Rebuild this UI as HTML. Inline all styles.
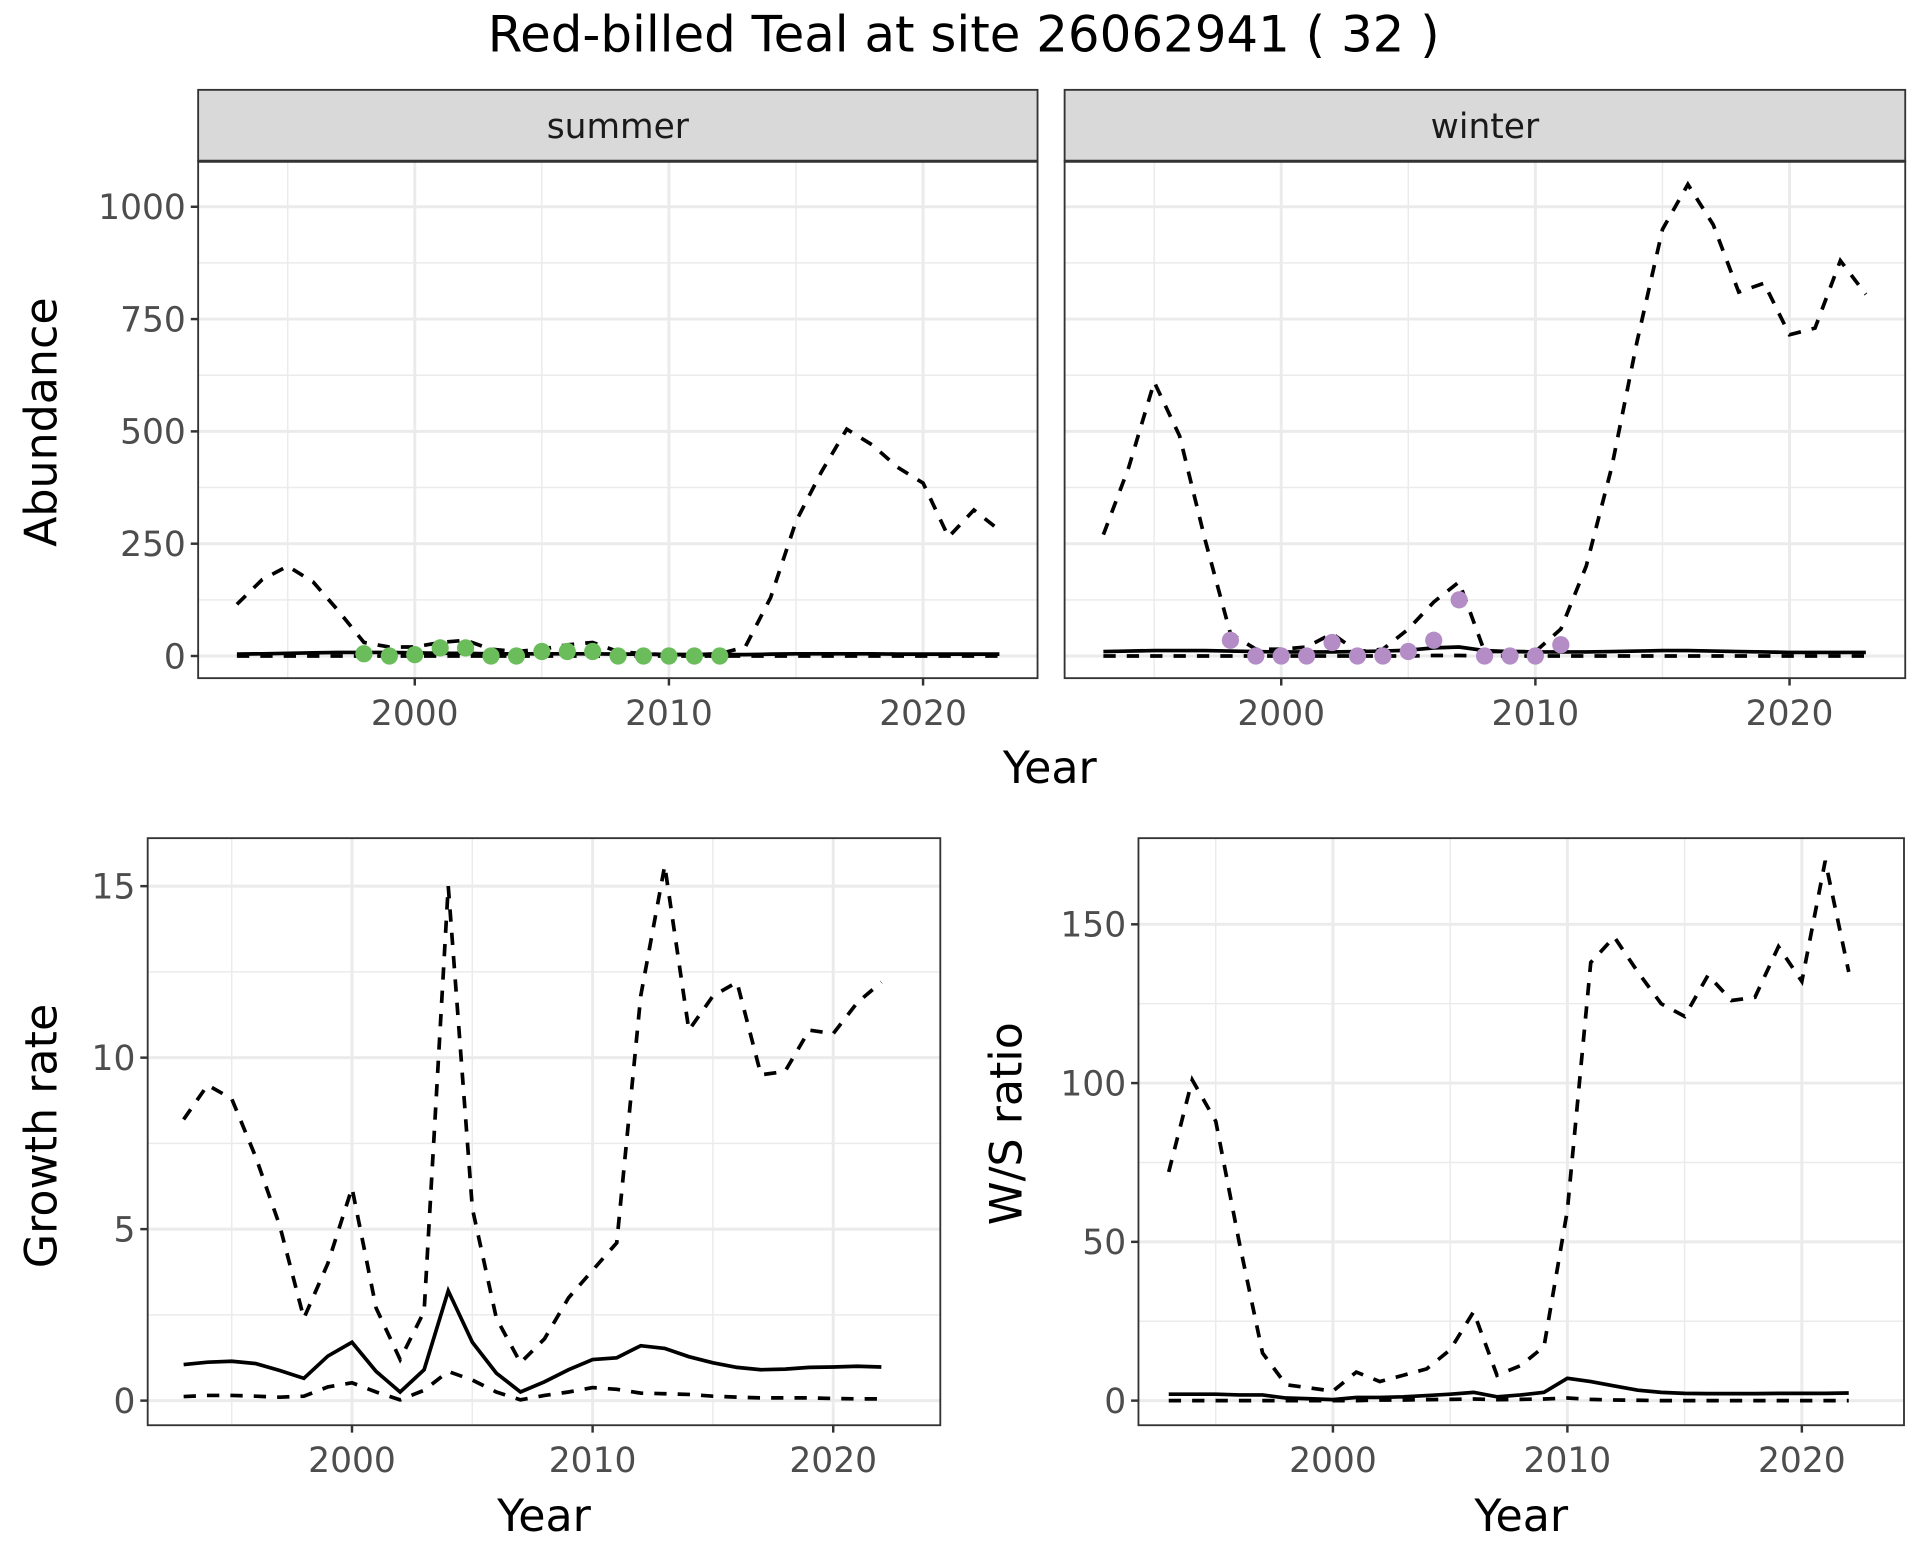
<!DOCTYPE html>
<html><head><meta charset="utf-8"><style>
html,body{margin:0;padding:0;background:#fff;}
svg{display:block;font-family:"DejaVu Sans","Liberation Sans",sans-serif;}
</style></head><body>
<svg id="c" width="1920" height="1560" viewBox="0 0 1560 1267.5" preserveAspectRatio="none" xmlns="http://www.w3.org/2000/svg">
<text x="783" y="42" text-anchor="middle" font-size="40.5" fill="#000">Red-billed Teal at site 26062941 ( 32 )</text>
</svg>
<script>
const years93to23 = [1993,1994,1995,1996,1997,1998,1999,2000,2001,2002,2003,2004,2005,2006,2007,2008,2009,2010,2011,2012,2013,2014,2015,2016,2017,2018,2019,2020,2021,2022,2023];
const summerUpper = [115,170,200,165,100,30,20,20,30,35,15,10,15,25,30,10,5,3,3,5,20,130,300,410,505,470,420,385,265,325,280];
const summerMid = [4,5,6,7,8,8,8,7,6,6,5,5,5,5,5,4,4,3,3,3,3,4,5,5,5,5,4,4,4,4,4];
const summerLower = [0,0,0,0,0,0,0,0,0,0,0,0,0,0,0,0,0,0,0,0,0,0,0,0,0,0,0,0,0,0,0];
const summerPtYears = [1998,1999,2000,2001,2002,2003,2004,2005,2006,2007,2008,2009,2010,2011,2012];
const summerPts = [5,0,3,18,18,0,0,10,10,10,0,0,0,0,0];
const winterUpper = [270,420,610,490,260,50,15,15,20,50,10,15,60,120,165,10,10,10,60,200,420,700,950,1050,960,810,830,715,730,880,805];
const winterMid = [10,11,12,12,12,11,10,9,9,9,10,11,13,18,20,12,10,9,9,9,10,11,12,12,11,10,9,8,8,8,8];
const winterLower = [0,0,0,0,0,0,0,0,0,0,0,0,0,1,1,0,0,0,0,0,0,0,0,0,0,0,0,0,0,0,0];
const winterPtYears = [1998,1999,2000,2001,2002,2003,2004,2005,2006,2007,2008,2009,2010,2011];
const winterPts = [35,0,0,0,30,0,0,10,35,125,0,0,0,25];
const years93to22 = [1993,1994,1995,1996,1997,1998,1999,2000,2001,2002,2003,2004,2005,2006,2007,2008,2009,2010,2011,2012,2013,2014,2015,2016,2017,2018,2019,2020,2021,2022];
const growthUpper = [8.2,9.2,8.8,7.1,5.1,2.4,4.0,6.2,2.7,1.2,2.6,15.0,5.6,2.4,1.1,1.8,3.0,3.8,4.6,11.8,15.6,10.8,11.8,12.2,9.5,9.6,10.8,10.7,11.6,12.2];
const growthMid = [1.05,1.12,1.15,1.08,0.88,0.65,1.3,1.7,0.85,0.25,0.9,3.2,1.7,0.8,0.25,0.55,0.9,1.2,1.25,1.6,1.52,1.28,1.1,0.97,0.9,0.92,0.97,0.98,1.0,0.98];
const growthLower = [0.12,0.15,0.15,0.13,0.1,0.13,0.4,0.52,0.25,0.02,0.3,0.85,0.6,0.25,0.02,0.15,0.25,0.38,0.33,0.22,0.2,0.18,0.13,0.1,0.08,0.08,0.08,0.06,0.05,0.05];
const ratioUpper = [72,101,88,50,15,5,4,3,9,6,8,10,16,28,8,11,17,60,138,146,135,125,121,134,126,127,143,132,170,135];
const ratioMid = [2,2,2,1.8,1.8,0.8,0.6,0.3,1,1,1.2,1.6,2,2.6,1.2,1.8,2.6,7,6,4.6,3.3,2.6,2.3,2.2,2.2,2.2,2.3,2.3,2.3,2.4];
const ratioLower = [0,0,0,0,0,0,0,0,0,0.2,0.2,0.3,0.4,0.5,0.3,0.4,0.5,0.8,0.4,0.2,0.1,0,0,0,0,0,0,0,0,0];
const xTicks = [2000,2010,2020];
const xMinor = [1995,2005,2015];
const abTicks = [0,250,500,750,1000];
const abMinor = [125,375,625,875];
const grTicks = [0,5,10,15];
const grMinor = [2.5,7.5,12.5];
const raTicks = [0,50,100,150];
const raMinor = [25,75,125];

const svg = document.getElementById('c');
const NS = 'http://www.w3.org/2000/svg';
function mk(tag, attrs, parent){
  const e = document.createElementNS(NS, tag);
  for (const k in attrs) e.setAttribute(k, attrs[k]);
  (parent||svg).appendChild(e);
  return e;
}
function panel(p){
  const g = mk('g', {});
  
  
  const X = v => p.x0px + (v - p.xa) / (p.xb - p.xa) * (p.x1px - p.x0px);
  const Y = v => p.y0px + (v - p.ya) / (p.yb - p.ya) * (p.y1px - p.y0px);
  mk('rect', {x:p.L, y:p.T, width:p.R-p.L, height:p.B-p.T, fill:'#fff'}, g);
  p.yMinor.forEach(v => mk('line', {x1:p.L, x2:p.R, y1:Y(v), y2:Y(v), stroke:'#ebebeb', 'stroke-width':1.2}, g));
  xMinor.forEach(v => mk('line', {x1:X(v), x2:X(v), y1:p.T, y2:p.B, stroke:'#ebebeb', 'stroke-width':1.2}, g));
  p.yTicks.forEach(v => mk('line', {x1:p.L, x2:p.R, y1:Y(v), y2:Y(v), stroke:'#ebebeb', 'stroke-width':2.4}, g));
  xTicks.forEach(v => mk('line', {x1:X(v), x2:X(v), y1:p.T, y2:p.B, stroke:'#ebebeb', 'stroke-width':2.4}, g));
  const line = (xs, ys, dash, nm) => {
    const d = xs.map((x,i) => (i?'L':'M') + X(x).toFixed(1) + ',' + Y(ys[i]).toFixed(1)).join('');
    const e = mk('path', {d:d, fill:'none', stroke:'#000', 'stroke-width':3, 'stroke-dasharray':dash?'10,9':'none'}, g);
    
    
  };
  p.series.forEach(s => line(s.xs, s.ys, s.dash, s.name));
  if (p.pts) p.pts.ys.forEach((v,i) => {
    const c = mk('circle', {cx:X(p.pts.xs[i]), cy:Y(v), r:7, fill:p.pts.color}, g);
    
    
  });
  mk('rect', {x:p.L, y:p.T, width:p.R-p.L, height:p.B-p.T, fill:'none', stroke:'#333', 'stroke-width':1.5}, g);
  if (p.strip){
    mk('rect', {x:p.L, y:p.T-58, width:p.R-p.L, height:58, fill:'#d9d9d9', stroke:'#333', 'stroke-width':1.5}, g);
    mk('line', {x1:p.L, x2:p.R, y1:p.T, y2:p.T, stroke:'#333', 'stroke-width':2.5}, g);
    const t = mk('text', {x:(p.L+p.R)/2, y:p.T-19, 'text-anchor':'middle', 'font-size':28, fill:'#1a1a1a'}, g);
    t.textContent = p.strip;
    
    
  }
  if (p.showY) p.yTicks.forEach(v => {
    mk('line', {x1:p.L-6, x2:p.L, y1:Y(v), y2:Y(v), stroke:'#333', 'stroke-width':2}, g);
    const t = mk('text', {x:p.L-10, y:Y(v)+10, 'text-anchor':'end', 'font-size':28, fill:'#4d4d4d'}, g);
    t.textContent = v;
    
    
  });
  xTicks.forEach(v => {
    mk('line', {x1:X(v), x2:X(v), y1:p.B, y2:p.B+6, stroke:'#333', 'stroke-width':2}, g);
    const t = mk('text', {x:X(v), y:p.B+38, 'text-anchor':'middle', 'font-size':28, fill:'#4d4d4d'}, g);
    t.textContent = v;
    
    
  });
  if (p.xTitle){
    const t = mk('text', {x:p.xTitle[0], y:p.xTitle[1], 'text-anchor':'middle', 'font-size':36, fill:'#000'}, g);
    t.textContent = 'Year';
    
    
  }
  if (p.yTitle){
    const t = mk('text', {x:p.yTitle[0], y:p.yTitle[1], 'text-anchor':'middle', 'font-size':36, fill:'#000', transform:'rotate(-90 '+p.yTitle[0]+' '+p.yTitle[1]+')'}, g);
    t.textContent = p.yTitle[2];
    
    
  }
}
panel({name:'summer-panel', L:161, R:843, T:131, B:551, xa:2000, xb:2020, x0px:337, x1px:750, ya:0, yb:1000, y0px:533, y1px:168,
  yTicks:abTicks, yMinor:abMinor, showY:true, strip:'summer', yTitle:[46,343,'Abundance'],
  series:[{xs:years93to23, ys:summerUpper, dash:true, name:'summer-upper-bound'},{xs:years93to23, ys:summerLower, dash:true, name:'summer-lower-bound'},{xs:years93to23, ys:summerMid, dash:false, name:'summer-estimate'}],
  pts:{xs:summerPtYears, ys:summerPts, color:'#6abd5a'}});
panel({name:'winter-panel', L:865, R:1548, T:131, B:551, xa:2000, xb:2020, x0px:1041, x1px:1454, ya:0, yb:1000, y0px:533, y1px:168,
  yTicks:abTicks, yMinor:abMinor, showY:false, strip:'winter',
  series:[{xs:years93to23, ys:winterUpper, dash:true, name:'winter-upper-bound'},{xs:years93to23, ys:winterLower, dash:true, name:'winter-lower-bound'},{xs:years93to23, ys:winterMid, dash:false, name:'winter-estimate'}],
  pts:{xs:winterPtYears, ys:winterPts, color:'#b48cc6'}});
const yt = mk('text', {x:853, y:636, 'text-anchor':'middle', 'font-size':36, fill:'#000'});
yt.textContent = 'Year';


panel({name:'growth-rate-panel', L:120, R:764, T:681, B:1158, xa:2000, xb:2020, x0px:286, x1px:677, ya:0, yb:15, y0px:1138, y1px:720,
  yTicks:grTicks, yMinor:grMinor, showY:true, xTitle:[442,1244], yTitle:[46,923,'Growth rate'],
  series:[{xs:years93to22, ys:growthUpper, dash:true, name:'growth-upper-bound'},{xs:years93to22, ys:growthLower, dash:true, name:'growth-lower-bound'},{xs:years93to22, ys:growthMid, dash:false, name:'growth-estimate'}]});
panel({name:'ws-ratio-panel', L:925, R:1547, T:681, B:1158, xa:2000, xb:2020, x0px:1083, x1px:1464, ya:0, yb:150, y0px:1138, y1px:751,
  yTicks:raTicks, yMinor:raMinor, showY:true, xTitle:[1236,1244], yTitle:[830,913,'W/S ratio'],
  series:[{xs:years93to22, ys:ratioUpper, dash:true, name:'ratio-upper-bound'},{xs:years93to22, ys:ratioLower, dash:true, name:'ratio-lower-bound'},{xs:years93to22, ys:ratioMid, dash:false, name:'ratio-estimate'}]});
</script>
</body></html>
